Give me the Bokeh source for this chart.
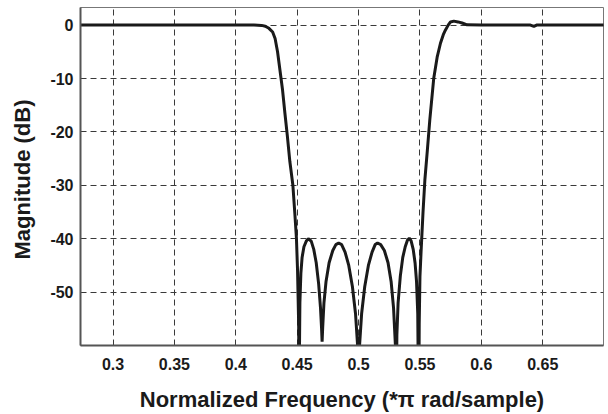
from bokeh.plotting import figure
from bokeh.models import FixedTicker, Range1d
from bokeh.embed import file_html
from bokeh.resources import INLINE

# Normalized frequency (*pi rad/sample)
freq = [
    0.270, 0.300, 0.350, 0.400, 0.415, 0.421, 0.424, 0.427, 0.430, 0.432,
    0.434, 0.436, 0.438, 0.440, 0.442, 0.444, 0.4465, 0.448, 0.4494, 0.4503,
    0.4512, 0.4515, 0.4522, 0.4530, 0.4540, 0.4555, 0.4575, 0.4594, 0.4615, 0.4635,
    0.4655, 0.4675, 0.4690, 0.4698, 0.4703, 0.4708, 0.4718, 0.4735, 0.4760, 0.4790,
    0.4815, 0.4838, 0.4862, 0.4890, 0.4920, 0.4950, 0.4975, 0.4992, 0.5000, 0.5008,
    0.5025, 0.5050, 0.5080, 0.5110, 0.5135, 0.5155, 0.5180, 0.5210, 0.5240, 0.5265,
    0.5285, 0.5300, 0.5306, 0.5312, 0.5322, 0.5340, 0.5360, 0.5380, 0.5398, 0.5413,
    0.5428, 0.5445, 0.5460, 0.5472, 0.5482, 0.5490, 0.5494, 0.5500, 0.5510, 0.5525,
    0.5540, 0.5560, 0.5580, 0.5612, 0.5640, 0.5667, 0.5690, 0.5708, 0.5730, 0.5749,
    0.5776, 0.5810, 0.5843, 0.5884, 0.6000, 0.6400, 0.6428, 0.6450, 0.7000,
]
# Magnitude (dB)
mag_db = [
    0.0, 0.0, 0.0, 0.0, 0.0, -0.05, -0.2, -0.6, -1.3, -2.5,
    -5.0, -8.5, -12.0, -16.5, -20.8, -25.5, -30.0, -35.0, -40.0, -46.0,
    -56.0, -70.0, -52.0, -46.5, -43.5, -41.5, -40.4, -40.0, -40.5, -42.0,
    -44.5, -48.5, -53.0, -56.5, -59.3, -56.5, -52.0, -48.0, -44.5, -42.2,
    -41.1, -40.8, -41.1, -42.5, -45.0, -49.0, -54.0, -60.0, -75.0, -60.0,
    -54.0, -49.0, -45.0, -42.5, -41.1, -40.8, -41.1, -42.2, -44.5, -48.0,
    -53.0, -60.0, -75.0, -58.0, -52.0, -47.0, -43.5, -41.5, -40.3, -39.9,
    -40.4, -42.0, -44.5, -48.0, -54.0, -75.0, -56.0, -47.0, -42.0, -35.0,
    -29.0, -23.5, -17.8, -10.0, -6.0, -3.4, -1.8, -0.9, 0.0, 0.6,
    0.75, 0.6, 0.4, 0.05, 0.0, 0.0, -0.25, 0.0, 0.0,
]

x_ticks = [0.3, 0.35, 0.4, 0.45, 0.5, 0.55, 0.6, 0.65]
x_tick_labels = ["0.3", "0.35", "0.4", "0.45", "0.5", "0.55", "0.6", "0.65"]
y_ticks = [0, -10, -20, -30, -40, -50]
y_tick_labels = ["0", "-10", "-20", "-30", "-40", "-50"]

p = figure(width=608, height=414, output_backend="svg", toolbar_location=None,
           x_range=Range1d(0.2735, 0.6995), y_range=Range1d(-60, 3.3),
           min_border_left=80, min_border_right=5, min_border_top=7,
           min_border_bottom=68)
p.background_fill_color = "white"
p.border_fill_color = "white"
p.outline_line_color = "#777777"
p.outline_line_width = 1

p.line(freq, mag_db, line_color="#1a1a1a", line_width=3)

p.xaxis.ticker = FixedTicker(ticks=x_ticks)
p.xaxis.major_label_overrides = {t: l for t, l in zip(x_ticks, x_tick_labels)}
p.yaxis.ticker = FixedTicker(ticks=y_ticks)
p.yaxis.major_label_overrides = {t: l for t, l in zip(y_ticks, y_tick_labels)}

for ax in (p.xaxis, p.yaxis):
    ax.axis_line_color = "#555555"
    ax.axis_line_width = 2
    ax.major_tick_line_color = None
    ax.minor_tick_line_color = None
    ax.major_tick_out = 0
    ax.major_tick_in = 0
    ax.minor_tick_out = 0
    ax.minor_tick_in = 0
    ax.major_label_text_font = "Liberation Sans"
    ax.major_label_text_font_style = "bold"
    ax.major_label_text_font_size = "16px"
    ax.major_label_text_color = "#1a1a1a"
    ax.axis_label_text_font = "Liberation Sans"
    ax.axis_label_text_font_style = "bold"
    ax.axis_label_text_font_size = "22px"
    ax.axis_label_text_color = "#1a1a1a"

p.xaxis.axis_label = "Normalized Frequency (*\u03c0 rad/sample)"
p.yaxis.axis_label = "Magnitude  (dB)"
p.xaxis.major_label_standoff = 12
p.yaxis.major_label_standoff = 7
p.xaxis.axis_label_standoff = 14
p.yaxis.axis_label_standoff = 12

for g in (p.xgrid, p.ygrid):
    g.grid_line_color = "#3a3a3a"
    g.grid_line_width = 1
    g.grid_line_dash = "6 4"

open("out.html", "w").write(file_html(p, INLINE))
